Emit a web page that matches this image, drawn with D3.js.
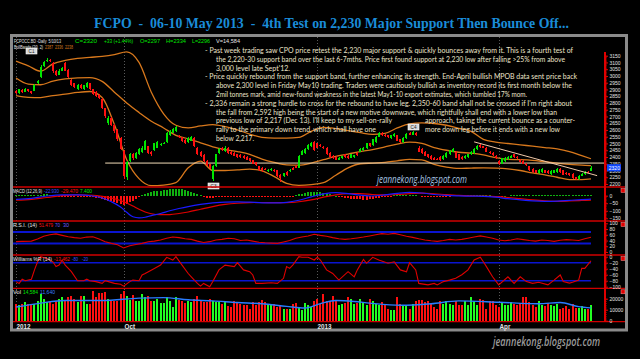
<!DOCTYPE html>
<html>
<head>
<meta charset="utf-8">
<title>FCPO 06-10 May 2013</title>
<script src="https://cdnjs.cloudflare.com/ajax/libs/d3/7.8.5/d3.min.js"></script>
<style>
  html, body { margin: 0; padding: 0; background: #000; }
  svg { display: block; }
</style>
</head>
<body>
<div id="chart"></div>
<script>
// ---- daily FCPO candles, mid Aug 2012 .. 10 May 2013 ----
const opens = [
  2890,2875,2895,2880,2900,2885,2890,2945,2990,3075, 3110,3115,3095,3040,3010,3040,3095,3045,2970,2945,
  2900,2935,2905,2915,2945,2900,2882,2860,2830,2760, 2650,2690,2640,2600,2540,2445,2255,2370,2420,2390,
  2420,2440,2455,2480,2440,2450,2470,2492,2500,2510, 2560,2580,2590,2552,2545,2528,2510,2520,2540,2470,
  2440,2415,2370,2345,2240,2330,2430,2470,2445,2470, 2440,2430,2420,2415,2410,2400,2390,2375,2360,2330,
  2320,2312,2295,2300,2302,2300,2270,2258,2290,2298, 2320,2332,2320,2418,2430,2460,2480,2512,2500,2490,
  2472,2470,2430,2410,2400,2380,2390,2420,2410,2395, 2400,2430,2440,2450,2465,2500,2490,2510,2550,2580,
  2562,2560,2540,2555,2560,2530,2510,2540,2578,2565, 2580,2470,2460,2440,2420,2410,2395,2387,2400,2385,
  2400,2420,2440,2440,2420,2400,2390,2400,2420,2430, 2460,2490,2480,2470,2440,2430,2410,2370,2350,2370,
  2385,2395,2420,2400,2380,2370,2350,2330,2310,2300, 2280,2290,2300,2295,2275,2285,2290,2310,2300,2285,
  2280,2275,2250,2240,2262,2275,2290,2297
];
const highs = [
  2898,2905,2900,2912,2905,2892,2940,2972,3078,3112, 3130,3122,3100,3045,3048,3068,3100,3050,2975,2950,
  2938,2940,2935,2955,2950,2905,2888,2865,2835,2765, 2700,2695,2645,2605,2545,2450,2370,2430,2428,2440,
  2468,2478,2528,2485,2448,2505,2518,2505,2512,2588, 2600,2615,2628,2560,2550,2532,2545,2555,2545,2475,
  2445,2420,2375,2350,2338,2425,2468,2475,2478,2475, 2445,2435,2425,2420,2415,2405,2395,2380,2365,2335,
  2325,2320,2312,2318,2308,2305,2275,2285,2295,2308, 2325,2338,2415,2450,2465,2495,2510,2518,2505,2495,
  2478,2475,2435,2415,2405,2400,2410,2425,2415,2425, 2418,2435,2465,2475,2505,2505,2535,2555,2588,2585,
  2568,2565,2565,2575,2565,2535,2545,2575,2585,2592, 2585,2478,2465,2445,2425,2415,2400,2392,2405,2415,
  2435,2455,2468,2445,2425,2405,2415,2425,2445,2465, 2490,2495,2485,2475,2445,2435,2415,2375,2395,2400,
  2405,2415,2425,2405,2385,2375,2355,2335,2315,2305, 2310,2315,2305,2300,2300,2305,2315,2315,2305,2290,
  2285,2280,2255,2265,2280,2295,2296,2334
];
const lows = [
  2868,2870,2875,2878,2880,2868,2885,2940,2985,3068, 3100,3100,3025,3002,3005,3035,3035,2985,2922,2910,
  2895,2902,2898,2910,2895,2862,2845,2830,2755,2690, 2640,2632,2580,2520,2450,2240,2230,2360,2380,2385,
  2415,2432,2450,2420,2410,2445,2465,2485,2495,2505, 2555,2575,2585,2538,2512,2498,2505,2515,2472,2412,
  2402,2362,2332,2312,2225,2325,2425,2442,2440,2425, 2412,2405,2395,2395,2385,2375,2365,2345,2335,2295,
  2292,2300,2290,2295,2292,2255,2217,2250,2262,2292, 2300,2315,2315,2412,2425,2455,2475,2445,2465,2475,
  2462,2415,2395,2385,2375,2375,2385,2395,2385,2390, 2395,2410,2435,2445,2460,2475,2485,2505,2545,2555,
  2550,2540,2535,2550,2515,2505,2505,2535,2560,2560, 2555,2435,2425,2405,2395,2380,2375,2378,2370,2380,
  2395,2415,2435,2390,2375,2380,2385,2395,2415,2425, 2455,2470,2465,2435,2425,2410,2385,2338,2345,2365,
  2380,2390,2395,2385,2355,2345,2335,2295,2285,2280, 2275,2285,2280,2275,2270,2280,2285,2285,2265,2270,
  2258,2240,2232,2230,2258,2270,2280,2296
];
const closes = [
  2875,2900,2880,2905,2885,2875,2935,2965,3070,3105, 3118,3108,3035,3010,3040,3062,3040,2990,2930,2915,
  2930,2910,2930,2948,2900,2870,2852,2838,2765,2700, 2690,2640,2590,2530,2460,2260,2360,2420,2390,2430,
  2460,2470,2520,2430,2420,2500,2510,2498,2506,2580, 2592,2610,2620,2545,2520,2505,2540,2548,2480,2420,
  2410,2370,2340,2320,2330,2420,2460,2450,2470,2430, 2420,2410,2400,2400,2390,2380,2370,2350,2340,2300,
  2300,2308,2305,2312,2298,2262,2245,2280,2270,2302, 2305,2320,2410,2445,2460,2490,2502,2450,2470,2480,
  2468,2420,2400,2390,2380,2395,2405,2400,2390,2420, 2412,2415,2460,2470,2500,2480,2530,2550,2580,2560,
  2556,2545,2560,2568,2520,2510,2540,2570,2565,2585, 2560,2440,2430,2410,2400,2385,2380,2383,2375,2410,
  2430,2450,2462,2395,2380,2385,2410,2420,2440,2460, 2485,2475,2470,2440,2430,2415,2390,2345,2390,2395,
  2400,2410,2400,2390,2360,2350,2340,2300,2290,2285, 2305,2310,2285,2280,2295,2300,2310,2290,2270,2275,
  2265,2245,2240,2262,2275,2290,2287,2320
];
const volumes = [
  15400,13900,15400,16800,15400,14800,15400,18300,24200,19800, 16800,16800,15400,18300,19800,21200,18300,21700,22700,19800,
  16800,22700,22700,15400,15400,27200,21200,25000,25000,25700, 19800,18300,18300,18300,24200,27200,22700,18900,23300,18300,
  17700,24200,21200,22700,18300,17700,19800,16000,16000,21200, 18300,12400,21200,18900,18300,16000,18300,16800,19800,22700,
  18300,16800,17400,19800,18300,16800,16800,15400,16800,13000, 12400,18300,16800,15400,13900,14500,10900,16800,13900,16800,
  19000,16800,15400,13900,15400,12400,13900,10900,10900,10900, 15400,16000,12400,9500,16000,13900,12400,17500,
  19800,15400,24200,18300,17700,22700,18900,13900,15400,16000, 21200,19800,15400,16000,19800,16800,13900,19800,18300,15400,
  14500,16800,13900,10900,10000,10000,21200,15400,13900,13900, 10900,15400,18300,18900,18900,16800,18300,15400,12400,10900,
  17700,15400,18300,14800,13900,18300,14500,13900,18300,13900, 21800,18300,13900,19800,18900,10900,17700,17700,13900,12400,
  16800,13900,13900,17400,15400,13900,16000,21200,21200,17400, 13900,12400,17700,13900,13000,16000,13900,13000,15400,10900,
  11500,13000,10900,14800,12000,11500,13000,10500,11000,14584
];

// Bollinger bands (20,2), read at every 4th bar
const bandIdx = [0,4,8,12,16,20,24,28,32,36,40,44,48,52,56,60,64,68,72,76,80,84,88,92,96,100,104,108,112,116,120,124,128,132,136,140,144,148,152,156,160,164,168,172,176,180,184,187];
const bandUpper = [3110,3075,3035,3090,3115,3130,3138,3145,3158,3178,3100,2880,2720,2635,2615,2630,2640,2625,2600,2570,2545,2540,2540,2545,2590,2620,2610,2595,2580,2568,2575,2615,2645,2652,2648,2635,2612,2590,2530,2510,2500,2490,2480,2470,2460,2440,2410,2387];
const bandMid = [2985,2940,2935,2962,2978,2986,2988,2960,2880,2800,2730,2665,2615,2560,2535,2505,2475,2455,2440,2420,2385,2360,2342,2340,2355,2380,2405,2422,2440,2455,2475,2495,2510,2500,2470,2450,2435,2428,2415,2395,2382,2380,2375,2365,2355,2345,2340,2336];
const bandLower = [2855,2842,2840,2855,2865,2878,2885,2840,2640,2380,2240,2188,2192,2210,2320,2370,2300,2300,2305,2310,2298,2255,2205,2190,2195,2210,2265,2320,2350,2355,2360,2372,2382,2378,2345,2325,2315,2318,2320,2318,2312,2300,2282,2268,2250,2232,2232,2238];

// support level and down-trend line
const supportLevel = 2355, supportFrom = 29;
const trendIdx = [149, 189], trendVal = [2512, 2262];

// MACD (12,26,9)
const macdHist = [
  4,5,5,6,5,4,3,5,7,8, 8,6,3,1,-1,-2,-4,-6,-8,-9, -9,-8,-7,-6,-6,-8,-12,-15,-20,-26,
  -32,-38,-44,-50,-55,-60,-55,-45,-32,-20, -8,4,12,18,24,28,31,34,37,40, 42,44,45,44,42,38,33,26,18,10,
  2,-6,-12,-16,-14,-11,-8,-6,-5,-5, -6,-6,-7,-7,-8,-8,-9,-10,-11,-10, -10,-9,-8,-7,-6,-6,-5,-4,-3,-2,
  -1,3,8,13,18,22,24,25,24,22, 19,15,10,5,0,-4,-8,-12,-16,-20, -22,-24,-25,-26,-26,-24,-22,-18,-14,-10,
  -6,-3,-1,2,3,4,5,5,6,5, 3,1,-2,-4,-5,-6,-6,-5,-4,-3, -2,-1,1,2,2,3,3,4,4,4,
  5,5,4,3,2,1,0,-1,-1,0, 1,2,3,3,3,3,4,4,4,5, 5,5,6,6,6,6,7,7,7,7, 7,7,7,7,7,7,7,7.4
];
const macdIdx = [0,5,10,15,20,25,28,31,34,36,38,40,42,44,47,50,53,56,60,64,68,72,76,80,84,88,92,96,100,104,108,112,116,120,124,128,132,136,140,144,148,152,156,160,164,168,172,176,180,184,187];
const macdLine = [-25,-18,-2,6,6,-2,-15,-40,-75,-110,-140,-147,-143,-132,-118,-100,-85,-72,-58,-48,-42,-41,-43,-47,-48,-44,-30,-8,12,20,14,4,-2,6,16,22,18,8,2,-1,-3,-4,-10,-20,-28,-35,-38,-36,-31,-26,-22.93];
const macdSignal = [-30,-24,-12,0,6,3,-4,-15,-32,-48,-68,-90,-108,-120,-126,-125,-118,-108,-90,-72,-58,-50,-46,-45,-46,-46,-40,-28,-10,6,14,14,8,5,8,14,17,13,7,2,-1,-3,-6,-12,-20,-28,-34,-37,-35,-32,-29.47];

// RSI (14)
const rsiIdx = [0,2,5,7,9,11,13,15,17,19,21,23,25,27,29,31,33,35,37,39,41,43,45,47,49,51,53,55,57,59,61,63,65,67,69,71,73,75,77,79,81,83,85,87,89,91,93,95,97,99,101,103,105,107,109,111,113,115,117,119,121,123,125,127,129,131,133,135,137,139,141,143,145,147,149,151,153,155,157,159,161,163,165,167,169,171,173,175,177,179,181,183,185,187];
const rsiVal = [36,37,38,45,55,60,63,58,53,50,48,52,53,45,36,30,25,14,22,26,30,36,38,42,48,52,50,46,44,38,33,36,42,44,48,46,40,42,38,34,32,31,30,35,40,48,52,56,62,58,55,50,46,44,46,49,52,56,60,64,62,65,60,55,51,46,42,39,37,40,44,42,44,48,52,56,52,48,42,39,42,46,43,40,38,42,40,37,41,43,42,40,46,51.479];
const rsiLevels = [70, 30];

// Williams %R (14)
const willIdx = [0,1,2,3,5,6,7,8,10,12,13,14,15,16,18,20,22,23,24,26,28,29,32,34,35,37,38,40,41,42,45,47,49,51,52,54,56,57,59,60,61,63,64,66,68,71,72,74,76,77,78,80,83,85,87,88,89,90,92,93,95,97,98,99,101,103,105,108,110,111,113,114,116,118,121,123,125,127,128,130,131,134,136,137,139,141,143,145,147,149,151,152,153,155,157,160,162,164,166,168,170,173,175,177,178,180,181,183,184,185,187];
const willVal = [-83,-89,-75,-80,-75,-44,-17,0,-6,-17,-33,-28,-11,-28,-50,-80,-80,-75,-80,-83,-89,-80,-89,-92,-98,-83,-78,-80,-61,-56,-39,-28,-2,-11,0,-28,-56,-67,-89,-98,-89,-100,-83,-44,-28,-33,-20,-44,-50,-61,-89,-89,-87,-89,-72,-33,-39,-28,0,-2,-2,-11,-2,-11,-44,-56,-78,-50,-67,-44,-9,-22,-2,-11,-22,-17,-44,-50,-20,-44,-89,-94,-89,-94,-83,-78,-72,-60,-44,-11,-2,-17,-33,-67,-94,-67,-89,-67,-83,-89,-85,-94,-78,-61,-83,-88,-85,-78,-39,-39,-13.462];
const willLevels = [-20, -80];

// volume moving average
const volMaIdx = [0,8,16,28,40,48,56,64,72,80,88,94,99,104,110,115,125,135,144,157,170,177,183,187];
const volMaVal = [12400,16000,18300,18300,20500,21000,19000,18000,16500,15400,13000,11500,15500,18300,17500,16000,14000,15400,18000,16800,15400,16500,12800,11640];

// axis ticks and date labels
const priceTicks = [2200,2250,2300,2350,2400,2450,2500,2550,2600,2650,2700,2750,2800,2850,2900,2950,3000,3050,3100,3150];
const macdTicks = [0,-50,-100,-150];
const rsiTicks = [100,80,60,40,20,0];
const willTicks = [0,-20,-40,-60,-80,-100];
const volTicks = [20000,10000,0];
const dateIdx = [0, 35, 98, 157];
const dateLabels = ["2012", "Oct", "2013", "Apr"];
const markIdx = [5, 64, 129];
const markLabels = ["C1", "C3", "C4"];

const notes = [
  "- Past week trading saw CPO price retest the 2,230 major support & quickly bounces away from it. This is a fourth test of",
  "the 2,220-30 support band over the last 6-7mths. Price first found support at 2,230 low after falling >25% from above",
  "3,000 level late Sept'12.",
  "- Price quickly rebound from the support band, further enhancing its strength. End-April bullish MPOB data sent price back",
  "above 2,300 level in Friday May10 trading. Traders were cautiously bullish as inventory record its first month below the",
  "2mil tonnes mark, amid new-found weakness in the latest May1-10 export extimates, which tumbled 17% mom.",
  "- 2,336 remain a strong hurdle to cross for the rebound to have leg. 2,350-60 band shall not be crossed if I'm right about",
  "the fall from 2,592 high being the start of a new motive downwave, which rightfully shall end with a lower low than",
  "previous low of 2,217 (Dec 13). I'll keep to my sell-on-rally",
  "approach, taking the current bounce as a counter-",
  "rally to the primary down trend, which shall have one",
  "more down leg before it ends with a new low",
  "below 2,217."
];
// [x start, x end, row] for each note line
const noteLayout = [[205,573,0],[216,565,1],[216,290,2],[205,577,3],[216,572,4],[216,527,5],[205,572,6],[216,557,7],[216,392,8],[425,575,8],[216,376,9],[425,560,9],[216,254,10]];

// ---- drawing ----
const W = 640, H = 359;
const green = "#00e600", red = "#ff1010", orange = "#d8781c", txt = "#e4e4e4";
const sans = "'Liberation Sans', Arial, sans-serif";

const svg = d3.select("#chart").append("svg").attr("width", W).attr("height", H)
  .attr("font-family", sans);
svg.append("rect").attr("width", W).attr("height", H).attr("fill", "#000");

svg.append("text")
  .attr("x", 94).attr("y", 28)
  .attr("textLength", 475).attr("lengthAdjust", "spacingAndGlyphs")
  .attr("font-family", "'Liberation Serif', 'DejaVu Serif', serif")
  .attr("font-weight", "bold").attr("font-size", 15.5)
  .attr("fill", "#1a8cd8").style("white-space", "pre")
  .text("FCPO  -  06-10 May 2013  -  4th Test on 2,230 Major Support Then Bounce Off...");

// chart frame
svg.append("rect").attr("x", 11.5).attr("y", 35.5).attr("width", 615).attr("height", 294.5)
  .attr("fill", "#000").attr("stroke", "#8a8a8a").attr("stroke-width", 3);

const xb = d3.scaleBand().domain(d3.range(closes.length)).range([14.5, 592.5]);
const cx = i => xb(i) + xb.bandwidth() / 2;
const xi = d3.scaleLinear().domain([0, closes.length - 1]).range([cx(0), cx(closes.length - 1)]);

const yP = d3.scaleLinear().domain([2200, 3150]).range([184, 55.7]);
const yM = d3.scaleLinear().domain([-150, 0]).range([218.3, 195.7]);
const yR = d3.scaleLinear().domain([0, 100]).range([252, 223.3]);
const yW = d3.scaleLinear().domain([-100, 0]).range([286.7, 256.7]);
const yV = d3.scaleLinear().domain([0, 20000]).range([320.7, 298.7]);

const defs = svg.append("defs");
const clip = (id, y0, y1) => defs.append("clipPath").attr("id", id)
  .append("rect").attr("x", 13).attr("y", y0).attr("width", 591).attr("height", y1 - y0);
clip("cMain", 37, 187); clip("cMacd", 187.5, 221); clip("cRsi", 221.5, 255); clip("cWill", 255.5, 288.3); clip("cVol", 288.8, 321.7);

// dotted date separators
svg.append("g").selectAll("line").data(dateIdx).join("line")
  .attr("x1", i => Math.round(cx(i)) + 0.5).attr("x2", i => Math.round(cx(i)) + 0.5)
  .attr("y1", 37).attr("y2", 321)
  .attr("stroke", "#5a5a5a").attr("stroke-dasharray", "1,2");

// ---- price panel ----
const main = svg.append("g").attr("clip-path", "url(#cMain)");

const bandLine = vals => d3.line().x((d, k) => xi(bandIdx[k])).y(d => yP(d)).curve(d3.curveMonotoneX)(vals);
[bandUpper, bandMid, bandLower].forEach(b => {
  main.append("path").attr("d", bandLine(b)).attr("fill", "none")
    .attr("stroke", orange).attr("stroke-width", 1.3);
});

main.append("line").attr("x1", xi(supportFrom)).attr("x2", 605)
  .attr("y1", yP(supportLevel)).attr("y2", yP(supportLevel))
  .attr("stroke", "#f2dcb8").attr("stroke-width", 1);

const candles = main.append("g").attr("shape-rendering", "crispEdges")
  .selectAll("g").data(d3.range(closes.length)).join("g")
  .attr("fill", i => closes[i] >= opens[i] ? green : red)
  .attr("stroke", i => closes[i] >= opens[i] ? green : red);
candles.append("line")
  .attr("x1", i => Math.round(cx(i)) + 0.5).attr("x2", i => Math.round(cx(i)) + 0.5)
  .attr("y1", i => yP(highs[i])).attr("y2", i => yP(lows[i]));
candles.append("rect")
  .attr("x", i => Math.round(cx(i)) - 1).attr("width", 2)
  .attr("y", i => yP(Math.max(opens[i], closes[i])))
  .attr("height", i => Math.max(1, Math.abs(yP(opens[i]) - yP(closes[i]))))
  .attr("stroke", "none");

main.append("line")
  .attr("x1", xi(trendIdx[0])).attr("x2", xi(trendIdx[1]))
  .attr("y1", yP(trendVal[0])).attr("y2", yP(trendVal[1]))
  .attr("stroke", "#f0c8a8").attr("stroke-width", 1);

// candle markers
const marks = svg.append("g").selectAll("g").data(markIdx).join("g")
  .attr("transform", (d, k) => {
    const yy = k === 1 ? yP(lows[d]) + 2 : (k === 0 ? 48 : yP(highs[d]) - 7);
    return `translate(${Math.round(cx(d)) - 5},${Math.round(yy)})`;
  });
marks.append("rect").attr("width", 11).attr("height", 6).attr("fill", "#d8d8d8").attr("stroke", "#fff").attr("stroke-width", 0.6);
marks.append("text").attr("x", 5.5).attr("y", 4.8).attr("text-anchor", "middle")
  .attr("font-size", 4.6).attr("fill", "#222").text((d, k) => markLabels[k]);

// ---- MACD panel ----
const macdG = svg.append("g").attr("clip-path", "url(#cMacd)");
macdG.append("g").attr("shape-rendering", "crispEdges")
  .selectAll("rect").data(macdHist).join("rect")
  .attr("x", (d, i) => Math.round(cx(i)) - 1).attr("width", 2)
  .attr("y", d => Math.min(yM(0), yM(d))).attr("height", d => Math.max(0.8, Math.abs(yM(d) - yM(0))))
  .attr("fill", d => d >= 0 ? "#10b010" : red);
const mLine = vals => d3.line().x((d, k) => xi(macdIdx[k])).y(d => yM(d)).curve(d3.curveMonotoneX)(vals);
macdG.append("path").attr("d", mLine(macdSignal)).attr("fill", "none").attr("stroke", "#e00000").attr("stroke-width", 1.2);
macdG.append("path").attr("d", mLine(macdLine)).attr("fill", "none").attr("stroke", "#1a1aff").attr("stroke-width", 1.2);

// ---- RSI panel ----
const rsiG = svg.append("g").attr("clip-path", "url(#cRsi)");
rsiG.selectAll("line").data(rsiLevels).join("line")
  .attr("x1", 13).attr("x2", xi(187)).attr("y1", d => yR(d)).attr("y2", d => yR(d))
  .attr("stroke", "#0a14d0").attr("stroke-width", 2);
rsiG.append("path")
  .attr("d", d3.line().x((d, k) => xi(rsiIdx[k])).y(d => yR(d))(rsiVal))
  .attr("fill", "none").attr("stroke", "#e00000").attr("stroke-width", 1.1);

// ---- Williams %R panel ----
const willG = svg.append("g").attr("clip-path", "url(#cWill)");
willG.selectAll("line").data(willLevels).join("line")
  .attr("x1", 13).attr("x2", xi(187)).attr("y1", d => yW(d)).attr("y2", d => yW(d))
  .attr("stroke", "#0a14d0").attr("stroke-width", 1.6);
willG.append("path")
  .attr("d", d3.line().x((d, k) => xi(willIdx[k])).y(d => yW(d))(willVal))
  .attr("fill", "none").attr("stroke", "#e00000").attr("stroke-width", 1.1);

// ---- volume panel ----
const volG = svg.append("g").attr("clip-path", "url(#cVol)");
volG.append("g").attr("shape-rendering", "crispEdges")
  .selectAll("rect").data(volumes).join("rect")
  .attr("x", (d, i) => Math.round(cx(i)) - 1).attr("width", 2)
  .attr("y", d => yV(d)).attr("height", d => yV(0) - yV(d) + 1)
  .attr("fill", (d, i) => closes[i] >= opens[i] ? "#22ff22" : red);
volG.append("path")
  .attr("d", d3.line().x((d, k) => xi(volMaIdx[k])).y(d => yV(d)).curve(d3.curveMonotoneX)(volMaVal))
  .attr("fill", "none").attr("stroke", "#2a7cff").attr("stroke-width", 1.4);

// panel separators and right-hand axis strip
svg.append("g").selectAll("line").data([187, 221, 255, 288.3, 321.7]).join("line")
  .attr("x1", 13).attr("x2", 625).attr("y1", d => d).attr("y2", d => d)
  .attr("stroke", "#d00000").attr("stroke-width", 1.3);
svg.append("line").attr("x1", 605).attr("x2", 605).attr("y1", 52).attr("y2", 322)
  .attr("stroke", "#e00000").attr("stroke-width", 2);
svg.append("g").selectAll("rect").data([187, 221, 255, 288.3]).join("rect")
  .attr("x", 621).attr("y", d => d + 1.5).attr("width", 4).attr("height", 4)
  .attr("fill", "#e00000").attr("stroke", "#ff9090").attr("stroke-width", 0.5);

const styleAxis = (g, minor) => {
  g.select(".domain").remove();
  g.selectAll(".tick line").attr("stroke", "#e00000");
  g.selectAll(".tick text").attr("fill", txt).attr("font-size", 5).attr("font-family", sans);
  if (minor) g.selectAll(".tick text").remove();
};
const addAxis = (scale, ticks, fmt, nMinor) => {
  svg.append("g").attr("transform", "translate(605,0)")
    .call(d3.axisRight(scale).ticks(nMinor).tickSize(1.6).tickFormat(""))
    .call(g => styleAxis(g, true));
  svg.append("g").attr("transform", "translate(605,0)")
    .call(d3.axisRight(scale).tickValues(ticks).tickSize(3).tickPadding(1.5).tickFormat(fmt))
    .call(g => styleAxis(g, false));
};
addAxis(yP, priceTicks, d3.format("d"), 95);
addAxis(yM, macdTicks, d3.format("d"), 15);
addAxis(yR, rsiTicks, d3.format("d"), 20);
addAxis(yW, willTicks, d3.format("d"), 20);
addAxis(yV, volTicks, d3.format("d"), 10);

// last price tag
const last = closes[closes.length - 1];
svg.append("rect").attr("x", 607).attr("y", yP(last) - 3.6).attr("width", 14).attr("height", 7.2).attr("fill", "#1048ff");
svg.append("text").attr("x", 608.8).attr("y", yP(last) + 1.8).attr("font-size", 5).attr("fill", "#fff").text(last);

// date axis
svg.append("g").selectAll("text").data(dateIdx).join("text")
  .attr("x", i => Math.round(cx(i)) + 0.5).attr("y", 328.5)
  .attr("font-size", 6.3).attr("fill", txt).attr("font-weight", "bold")
  .text((d, k) => dateLabels[k]);

// ---- header captions ----
const caption = (parts, y) => {
  const g = svg.append("g");
  parts.forEach(p => g.append("text").attr("x", p[1]).attr("y", y)
    .attr("textLength", p[2] - p[1]).attr("lengthAdjust", "spacingAndGlyphs")
    .attr("font-size", 6).attr("fill", p[3]).style("white-space", "pre").text(p[0]));
};
caption([["FCPOCC.BD -Daily  5/10/13", 14, 61, txt], ["C=2320", 75, 97, green], ["+33 (+1.44%)", 104, 133, green],
  ["O=2297", 140, 160, green], ["H=2334", 166, 186, green], ["L=2296", 192, 210, green], ["V=14,584", 216, 240, txt]], 43);
caption([["BollBands (20, 2)", 14, 43, txt], ["2387  2336  2238", 45, 73, orange]], 48.8);
caption([["MACD (12,26,9)", 13, 42, txt], ["-22.930", 44, 59, "#3a50ff"], ["-29.470", 61, 78, red], ["7.400", 80, 92, green]], 193);
caption([["R.S.I. (14)", 13, 37, txt], ["51.479", 39, 53, red], ["70", 55, 60, "#6a5cff"], ["30", 63, 69, "#6a5cff"]], 227);
caption([["Williams %R (14)", 13, 52, txt], ["-13.462", 54, 70, red], ["-80", 72, 78, "#3a50ff"], ["-20", 82, 88, "#3a50ff"]], 260.5);
caption([["Vol", 13, 21, txt], ["14,584", 23, 38, green], ["11,640", 40, 55, "#3a7cff"]], 294);

// ---- commentary ----
svg.append("g").selectAll("text").data(notes).join("text")
  .attr("x", (d, k) => noteLayout[k][0])
  .attr("y", (d, k) => 53 + noteLayout[k][2] * 8.8)
  .attr("textLength", (d, k) => noteLayout[k][1] - noteLayout[k][0])
  .attr("lengthAdjust", "spacingAndGlyphs")
  .attr("font-family", "'Liberation Sans Narrow', 'Lato', 'Roboto', sans-serif")
  .attr("font-size", 8.4).attr("fill", "#ece4ca")
  .text(d => d);

// watermarks
svg.append("text").attr("x", 377).attr("y", 183).attr("textLength", 90).attr("lengthAdjust", "spacingAndGlyphs")
  .attr("font-family", "'Open Sans', sans-serif").attr("font-style", "italic").attr("font-size", 10.5)
  .attr("fill", "#a9c6e4").text("jeannekong.blogspot.com");
svg.append("text").attr("x", 493).attr("y", 345.5).attr("textLength", 107).attr("lengthAdjust", "spacingAndGlyphs")
  .attr("font-family", "'Open Sans', sans-serif").attr("font-style", "italic").attr("font-weight", 600).attr("font-size", 12)
  .attr("fill", "#9a9a9a").text("jeannekong.blogspot.com");
</script>
</body>
</html>
